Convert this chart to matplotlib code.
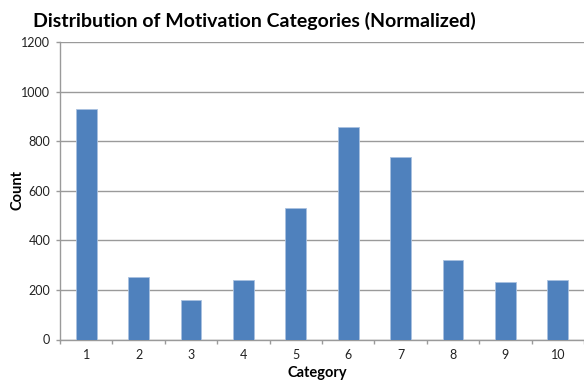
import matplotlib
matplotlib.use("Agg")
import matplotlib.pyplot as plt
import numpy as np

categories = ["1", "2", "3", "4", "5", "6", "7", "8", "9", "10"]
counts = [930, 253, 158, 240, 532, 859, 738, 322, 233, 239]
y_ticks = [0, 200, 400, 600, 800, 1000, 1200]

bar_color = "#4F81BD"
grid_color = "#9a9a9a"
text_color = "#222222"
font = "Lato"

fig = plt.figure(figsize=(5.84, 3.81), dpi=100)
ax = fig.add_axes([60 / 584, 1 - 339.5 / 381, 1 - 60 / 584, (339.5 - 42) / 381])

x = np.arange(len(categories))
ax.bar(x, counts, width=0.4, color=bar_color, edgecolor="#a9c1e0", linewidth=0.6, zorder=3)

ax.set_xlim(-0.5, len(categories) - 0.5)
ax.set_ylim(0, 1200)
ax.set_yticks(y_ticks)
ax.set_yticklabels([str(v) for v in y_ticks], fontsize=9, color=text_color, family=font)
ax.yaxis.grid(True, color=grid_color, linewidth=1.0, zorder=0)
ax.set_axisbelow(True)

# category labels sit at bar centres; tick marks sit between categories
ax.set_xticks(x)
ax.set_xticklabels(categories, fontsize=9, color=text_color, family=font)
ax.tick_params(axis="x", which="major", length=0, pad=7)
ax.set_xticks(np.arange(-0.5, len(categories) + 0.5, 1.0), minor=True)
ax.tick_params(axis="x", which="minor", length=3, color=grid_color, width=1.0, direction="out")
ax.tick_params(axis="y", length=3, color=grid_color, width=1.0, direction="out", pad=4)

for side in ["top", "right"]:
    ax.spines[side].set_visible(False)
for side in ["left", "bottom"]:
    ax.spines[side].set_color(grid_color)
    ax.spines[side].set_linewidth(1.0)

fig.text(17 / 584, 1 - 190 / 381, "Count", rotation=90, ha="center", va="center",
         fontsize=10.5, fontweight="bold", color="black", family=font)
fig.text(317 / 584, 1 - 373 / 381, "Category", ha="center", va="center",
         fontsize=10.5, fontweight="bold", color="black", family=font)
fig.text(254 / 584, 1 - 21 / 381, "Distribution of Motivation Categories (Normalized)",
         ha="center", va="center", fontsize=14, fontweight="bold", color="black",
         family=font)

fig.savefig("out.png", dpi=100, facecolor="white")
